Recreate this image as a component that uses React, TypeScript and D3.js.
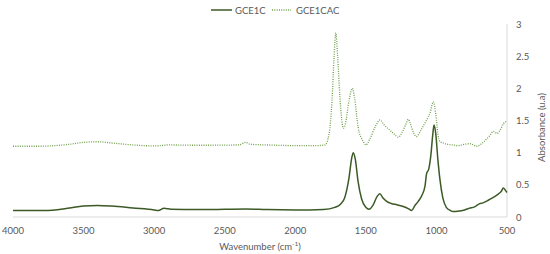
import React, { useEffect, useRef } from 'react';
import * as d3 from 'd3';

// GCE1C spectrum (solid)
const gce1cWave = [4000, 3800, 3700, 3600, 3500, 3400, 3300, 3150, 3000, 2970, 2930, 2880, 2700, 2500, 2350, 2200, 2000, 1900, 1800, 1720, 1680, 1650, 1620, 1600, 1589, 1575, 1555, 1530, 1500, 1478, 1450, 1420, 1400, 1380, 1350, 1320, 1280, 1230, 1200, 1175, 1155, 1130, 1100, 1081, 1069, 1055, 1040, 1025, 1017, 1005, 990, 975, 955, 930, 900, 883, 850, 800, 762, 740, 720, 700, 670, 640, 610, 585, 560, 540, 526, 510, 500];
const gce1cAbs = [0.10, 0.10, 0.11, 0.14, 0.17, 0.18, 0.17, 0.14, 0.11, 0.10, 0.135, 0.12, 0.115, 0.12, 0.125, 0.115, 0.11, 0.11, 0.115, 0.15, 0.20, 0.30, 0.60, 0.92, 1.00, 0.90, 0.55, 0.28, 0.15, 0.12, 0.18, 0.32, 0.36, 0.30, 0.24, 0.21, 0.19, 0.16, 0.13, 0.10, 0.17, 0.24, 0.35, 0.48, 0.68, 0.74, 0.95, 1.30, 1.43, 1.30, 0.90, 0.58, 0.30, 0.15, 0.10, 0.085, 0.09, 0.11, 0.14, 0.15, 0.17, 0.20, 0.22, 0.25, 0.29, 0.32, 0.36, 0.40, 0.45, 0.41, 0.38];

// GCE1CAC spectrum (dotted)
const gce1cacWave = [4000, 3800, 3700, 3600, 3500, 3400, 3300, 3150, 3000, 2950, 2900, 2700, 2400, 2350, 2320, 2200, 2000, 1850, 1790, 1760, 1740, 1725, 1713, 1700, 1685, 1670, 1660, 1645, 1620, 1596, 1580, 1555, 1520, 1499, 1470, 1430, 1400, 1370, 1330, 1300, 1270, 1240, 1215, 1199, 1185, 1160, 1143, 1110, 1085, 1069, 1045, 1022, 1005, 990, 975, 950, 920, 883, 850, 800, 762, 714, 680, 650, 620, 597, 570, 549, 525, 510, 500];
const gce1cacAbs = [1.10, 1.10, 1.11, 1.13, 1.16, 1.17, 1.15, 1.12, 1.105, 1.11, 1.12, 1.115, 1.12, 1.16, 1.13, 1.12, 1.11, 1.11, 1.12, 1.30, 1.80, 2.50, 2.86, 2.50, 1.90, 1.50, 1.38, 1.45, 1.80, 2.00, 1.85, 1.40, 1.18, 1.12, 1.22, 1.42, 1.51, 1.43, 1.35, 1.29, 1.24, 1.33, 1.45, 1.52, 1.45, 1.30, 1.25, 1.35, 1.45, 1.51, 1.62, 1.79, 1.60, 1.30, 1.17, 1.15, 1.13, 1.12, 1.11, 1.13, 1.14, 1.10, 1.14, 1.20, 1.27, 1.33, 1.30, 1.35, 1.45, 1.48, 1.47];

const xTicks = [4000, 3500, 3000, 2500, 2000, 1500, 1000, 500];
const yTicks = [0, 0.5, 1, 1.5, 2, 2.5, 3];

export default function App() {
  const svgRef = useRef<SVGSVGElement>(null);

  useEffect(() => {
    const width = 550;
    const height = 254;
    const left = 13, right = 507, top = 24, bottom = 217;
    const font = 'Lato, "Open Sans", sans-serif';
    const textColor = '#595959';

    const svg = d3.select(svgRef.current)
      .attr('width', width)
      .attr('height', height);
    svg.selectAll('*').remove();

    const x = d3.scaleLinear().domain([4000, 500]).range([left, right]);
    const y = d3.scaleLinear().domain([0, 3]).range([bottom, top]);

    // axis lines
    svg.append('line')
      .attr('x1', left).attr('x2', right)
      .attr('y1', bottom).attr('y2', bottom)
      .attr('stroke', '#d9d9d9').attr('stroke-width', 1);
    svg.append('line')
      .attr('x1', right).attr('x2', right)
      .attr('y1', top).attr('y2', bottom)
      .attr('stroke', '#d9d9d9').attr('stroke-width', 1);

    // x tick labels
    svg.append('g').selectAll('text')
      .data(xTicks)
      .join('text')
      .attr('x', d => x(d))
      .attr('y', 233.5)
      .attr('text-anchor', 'middle')
      .attr('font-family', font)
      .attr('font-size', 9.5)
      .attr('fill', textColor)
      .text(d => d);

    // y tick labels (right side)
    svg.append('g').selectAll('text')
      .data(yTicks)
      .join('text')
      .attr('x', 516)
      .attr('y', d => y(d) + 3.5)
      .attr('font-family', font)
      .attr('font-size', 9.5)
      .attr('fill', textColor)
      .text(d => d);

    // axis titles
    const xt = svg.append('text')
      .attr('x', (left + right) / 2)
      .attr('y', 250)
      .attr('text-anchor', 'middle')
      .attr('font-family', font)
      .attr('font-size', 9.5)
      .attr('fill', textColor);
    xt.append('tspan').text('Wavenumber (cm');
    xt.append('tspan').attr('dy', -4).attr('font-size', 6.5).text('-1');
    xt.append('tspan').attr('dy', 4).text(')');

    svg.append('text')
      .attr('transform', `translate(545, ${(top + bottom) / 2 + 7}) rotate(-90)`)
      .attr('text-anchor', 'middle')
      .attr('font-family', font)
      .attr('font-size', 9.5)
      .attr('fill', textColor)
      .text('Absorbance (u.a)');

    const line = d3.line<[number, number]>()
      .x(d => x(d[0]))
      .y(d => y(d[1]))
      .curve(d3.curveMonotoneX);

    const solidData = gce1cWave.map((w, i) => [w, gce1cAbs[i]] as [number, number]);
    const dotData = gce1cacWave.map((w, i) => [w, gce1cacAbs[i]] as [number, number]);

    svg.append('path')
      .datum(dotData)
      .attr('fill', 'none')
      .attr('stroke', '#70a04c')
      .attr('stroke-width', 1.3)
      .attr('stroke-dasharray', '1 1.3')
      .attr('d', line);

    svg.append('path')
      .datum(solidData)
      .attr('fill', 'none')
      .attr('stroke', '#3b5a25')
      .attr('stroke-width', 1.5)
      .attr('d', line);

    // legend
    const legend = svg.append('g').attr('font-family', font).attr('font-size', 9.5).attr('fill', textColor);
    legend.append('line')
      .attr('x1', 211).attr('x2', 232).attr('y1', 10).attr('y2', 10)
      .attr('stroke', '#3b5a25').attr('stroke-width', 1.5);
    legend.append('text').attr('x', 235).attr('y', 13.5).text('GCE1C');
    legend.append('line')
      .attr('x1', 272).attr('x2', 291).attr('y1', 10).attr('y2', 10)
      .attr('stroke', '#70a04c').attr('stroke-width', 1.3).attr('stroke-dasharray', '1 1.3');
    legend.append('text').attr('x', 296).attr('y', 13.5).text('GCE1CAC');
  }, []);

  return (
    <svg ref={svgRef} style={{ position: 'absolute', left: 0, top: 0 }}></svg>
  );
}
